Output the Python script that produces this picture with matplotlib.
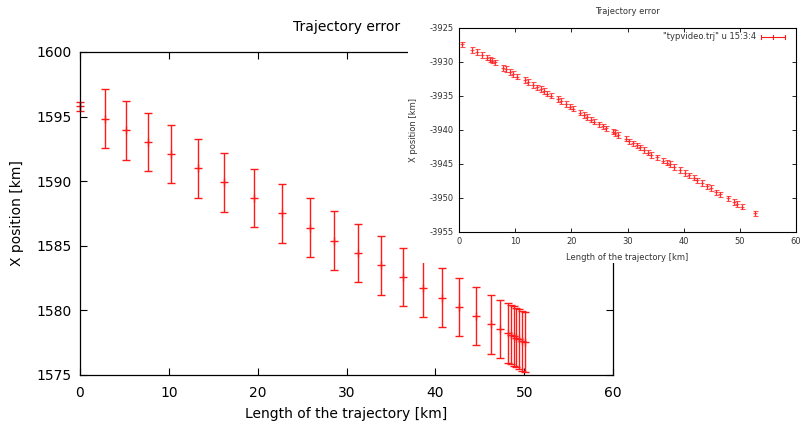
import numpy as np
import matplotlib
matplotlib.use("Agg")
import matplotlib.pyplot as plt
from matplotlib.patches import Rectangle

plt.rcParams['font.family'] = ['DejaVu Sans']
plt.rcParams['axes.unicode_minus'] = False

# main chart: step position along the trajectory
main_x = [0, 2.77, 5.17, 7.64, 10.19, 13.26, 16.18, 19.58, 22.77, 25.84, 28.58,
          31.27, 33.82, 36.33, 38.58, 40.71, 42.62, 44.57, 46.25, 47.3, 48.12,
          48.5, 48.8, 49.07, 49.36, 49.7, 50.03]
main_y = [1595.8, 1594.82, 1593.92, 1593.03, 1592.1, 1590.98, 1589.92, 1588.69,
          1587.51, 1586.41, 1585.38, 1584.44, 1583.49, 1582.59, 1581.75, 1580.98,
          1580.26, 1579.57, 1578.92, 1578.57, 1578.26, 1578.13, 1578.0, 1577.88,
          1577.77, 1577.64, 1577.55]
main_err = [0.35, 2.28, 2.3, 2.28, 2.27, 2.28, 2.28, 2.26, 2.3, 2.27, 2.28,
            2.27, 2.28, 2.27, 2.28, 2.27, 2.28, 2.27, 2.28, 2.25, 2.3,
            2.3, 2.3, 2.3, 2.3, 2.3, 2.3]

# inset: "typvideo.trj" u 15:3:4
ins_x = [0.43, 2.2, 3.1, 4.0, 4.9, 5.5, 5.8, 6.4, 7.85, 8.3, 9.0, 9.6, 10.35,
         11.7, 12.3, 13.1, 13.8, 14.5, 15.1, 15.7, 16.3, 17.66, 18.2, 19.0,
         19.7, 20.3, 21.5, 22.2, 22.7, 23.5, 24.1, 24.9, 25.6, 26.2, 27.47,
         27.8, 28.3, 29.7, 30.3, 31.0, 31.6, 32.3, 33.0, 33.6, 34.2, 35.2,
         36.4, 37.0, 37.6, 38.3, 39.4, 40.3, 41.0, 41.8, 42.4, 43.3, 44.2,
         44.8, 45.7, 46.5, 48.0, 49.05, 49.6, 50.4, 52.7]
ins_y = [-3927.44, -3928.28, -3928.6, -3929.0, -3929.4, -3929.7, -3929.85,
         -3930.1, -3930.9, -3931.1, -3931.5, -3931.8, -3932.2, -3932.7,
         -3933.0, -3933.4, -3933.75, -3934.0, -3934.3, -3934.7, -3935.0,
         -3935.5, -3935.75, -3936.2, -3936.6, -3936.9, -3937.5, -3937.85,
         -3938.1, -3938.5, -3938.8, -3939.2, -3939.5, -3939.8, -3940.3,
         -3940.45, -3940.8, -3941.3, -3941.7, -3942.0, -3942.3, -3942.6,
         -3943.0, -3943.35, -3943.7, -3944.05, -3944.55, -3944.85, -3945.05,
         -3945.45, -3945.95, -3946.35, -3946.7, -3947.05, -3947.45, -3947.85,
         -3948.35, -3948.55, -3949.2, -3949.5, -3950.1, -3950.6, -3950.95,
         -3951.3, -3952.3]
ins_err = [0.4] * len(ins_x)

red = '#ff1a1a'

fig = plt.figure(figsize=(8.03, 4.24), dpi=100)

ax = fig.add_axes([0.0996, 0.1156, 0.664, 0.762])
eb = ax.errorbar(main_x, main_y, yerr=main_err, fmt='+', color=red, ms=5.5,
                 mew=1.0, elinewidth=1.0, capsize=2.8, capthick=1.0)
for a in eb.get_children():
    a.set_clip_on(False)
ax.set_xlim(0, 60)
ax.set_ylim(1575, 1600)
ax.set_xticks(np.arange(0, 61, 10))
ax.set_yticks(np.arange(1575, 1601, 5))
ax.tick_params(direction='in', length=5, width=0.8, top=True, right=True,
               labelsize=10)
ax.tick_params(axis='x', pad=8)
ax.tick_params(axis='y', pad=6)
for s in ax.spines.values():
    s.set_linewidth(0.9)
ax.set_title('Trajectory error', fontsize=10, pad=15)
ax.set_xlabel('Length of the trajectory [km]', fontsize=10, labelpad=5)
ax.set_ylabel('X position [km]', fontsize=10, labelpad=9)

# white block that the inset picture sits on
fig.patches.append(Rectangle((0.508, 0.3797), 0.492, 0.6203,
                             transform=fig.transFigure, facecolor='white',
                             edgecolor='none', zorder=1))

ax2 = fig.add_axes([0.572, 0.4535, 0.419, 0.4811], zorder=2)
ax2.errorbar(ins_x, ins_y, yerr=ins_err, fmt='+', color=red, ms=2.5,
             mew=0.8, elinewidth=0.9, capsize=1.8, capthick=0.9, alpha=0.75)
ax2.set_xlim(0, 60)
ax2.set_ylim(-3955, -3925)
ax2.set_xticks(np.arange(0, 61, 10))
ax2.set_yticks(np.arange(-3955, -3924, 5))
ax2.tick_params(direction='in', length=3, width=0.6, top=True, right=True,
                labelsize=6, labelcolor='#333333', pad=4)
for s in ax2.spines.values():
    s.set_linewidth(0.8)
ax2.set_title('Trajectory error', fontsize=6, color='#333333', pad=10)
ax2.set_xlabel('Length of the trajectory [km]', fontsize=6, color='#333333',
               labelpad=5)
ax2.set_ylabel('X position [km]', fontsize=6, color='#333333', labelpad=8)

# gnuplot style key
ax2.text(0.882, 0.956, '"typvideo.trj" u 15:3:4', transform=ax2.transAxes,
         ha='right', va='center', fontsize=6, color='#333333')
ax2.plot([0.896, 0.969], [0.956, 0.956], transform=ax2.transAxes, color=red,
         lw=0.8)
for kx in [0.896, 0.932, 0.969]:
    ax2.plot([kx, kx], [0.947, 0.965], transform=ax2.transAxes, color=red,
             lw=0.8)

fig.savefig('out.png', dpi=100)
